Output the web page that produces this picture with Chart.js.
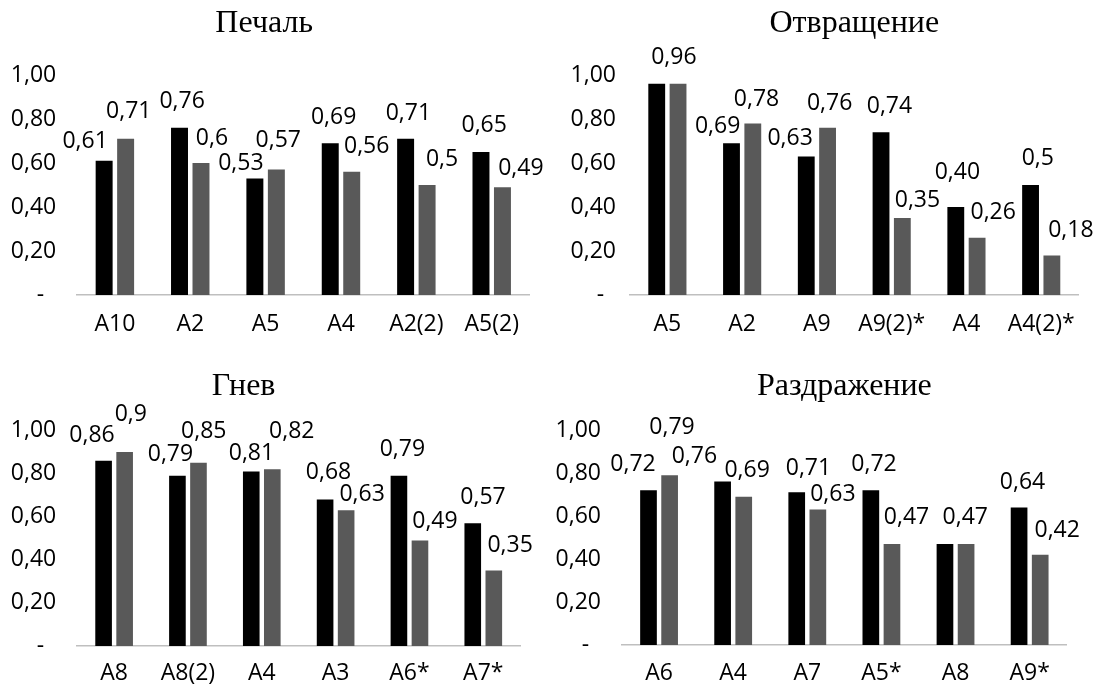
<!DOCTYPE html>
<html>
<head>
<meta charset="utf-8">
<script src="https://cdn.jsdelivr.net/npm/chart.js@4.4.1/dist/chart.umd.min.js"></script>
<style>
  html, body { margin: 0; padding: 0; background: #fff; overflow: hidden; }
  #board { position: relative; width: 1099px; height: 685px; overflow: hidden; background: #fff; }
  #board canvas { position: absolute; }
</style>
</head>
<body>
<div id="board">
  <canvas id="sadness"></canvas>
  <canvas id="disgust"></canvas>
  <canvas id="anger"></canvas>
  <canvas id="irritation"></canvas>
</div>
<script>
// ---- data (values written as they are printed, decimal comma) ----
const yTickLabels = ['-', '0,20', '0,40', '0,60', '0,80', '1,00'];

const sadnessCategories = ['A10', 'A2', 'A5', 'A4', 'A2(2)', 'A5(2)'];
const sadnessFirst      = ['0,61', '0,76', '0,53', '0,69', '0,71', '0,65'];
const sadnessSecond     = ['0,71', '0,6', '0,57', '0,56', '0,5', '0,49'];

const disgustCategories = ['A5', 'A2', 'A9', 'A9(2)*', 'A4', 'A4(2)*'];
const disgustFirst      = ['0,96', '0,69', '0,63', '0,74', '0,40', '0,5'];
const disgustSecond     = ['0,96', '0,78', '0,76', '0,35', '0,26', '0,18'];

const angerCategories = ['A8', 'A8(2)', 'A4', 'A3', 'A6*', 'A7*'];
const angerFirst      = ['0,86', '0,79', '0,81', '0,68', '0,79', '0,57'];
const angerSecond     = ['0,9', '0,85', '0,82', '0,63', '0,49', '0,35'];

const irritationCategories = ['A6', 'A4', 'A7', 'A5*', 'A8', 'A9*'];
const irritationFirst      = ['0,72', '0,76', '0,71', '0,72', '0,47', '0,64'];
const irritationSecond     = ['0,79', '0,69', '0,63', '0,47', '0,47', '0,42'];

const toNumber = s => parseFloat(s.replace(',', '.'));

// ---- shared look ----
const SANS = "'Open Sans', 'DejaVu Sans', sans-serif";
const SERIF = "'Liberation Serif', 'DejaVu Serif', serif";
const TEXT_SIZE = 23;
const FIRST_COLOR = '#000000';
const SECOND_COLOR = '#595959';

// value labels above the bars; each label is nudged from the bar top centre
const barValueLabels = {
  id: 'barValueLabels',
  afterDatasetsDraw(chart, args, opts) {
    const ctx = chart.ctx;
    ctx.save();
    ctx.font = `${TEXT_SIZE}px ${SANS}`;
    ctx.fillStyle = '#000';
    ctx.textAlign = 'center';
    ctx.textBaseline = 'alphabetic';
    chart.data.datasets.forEach((ds, i) => {
      const meta = chart.getDatasetMeta(i);
      meta.data.forEach((bar, j) => {
        const nudge = opts.nudges[i][j];
        if (!nudge) return;
        const x = bar.x + nudge[0];
        const y = bar.y + nudge[1] + 0.357 * TEXT_SIZE;
        ctx.fillText(ds.valueText[j], x, y);
      });
    });
    ctx.restore();
  }
};

const panels = [
  {
    id: 'sadness', title: 'Печаль',
    cats: sadnessCategories, first: sadnessFirst, second: sadnessSecond,
    box: { left: -1, top: 0, width: 560, height: 340 },
    yWidth: 78.2, yPad: 21, xHeight: 45, xPad: 16,
    padRight: 29.6, titleFull: true, titlePad: { top: 4.3, bottom: 32.3 },
    nudges: [
      [[-19, -21], [2.6, -28], [-14, -16.7], [3.4, -27], [2.8, -27], [3.2, -27.8]],
      [[3.2, -28.7], [11, -26], [1.9, -31], [15, -27.3], [15, -27.5], [18.4, -20.5]]
    ]
  },
  {
    id: 'disgust', title: 'Отвращение',
    cats: disgustCategories, first: disgustFirst, second: disgustSecond,
    box: { left: 550, top: 0, width: 549, height: 340 },
    yWidth: 80, yPad: 14, xHeight: 45, xPad: 16,
    padRight: 20.4, titleFull: false, titlePad: { top: 4.3, bottom: 32.3 },
    nudges: [
      [null, [-13.9, -18.7], [-16.1, -19.3], [8.4, -27.2], [1.6, -36.2], [7.2, -27.8]],
      [[-4.2, -28], [3.7, -26], [2.1, -26.2], [15.1, -19.5], [16.1, -27], [19, -27]]
    ]
  },
  {
    id: 'anger', title: 'Гнев',
    cats: angerCategories, first: angerFirst, second: angerSecond,
    box: { left: -33, top: 340, width: 580, height: 346 },
    yWidth: 110.2, yPad: 21, xHeight: 40, xPad: 13.8,
    padRight: 26.8, titleFull: true, titlePad: { top: 27.3, bottom: 24.8 },
    nudges: [
      [[-11.6, -26.7], [-7, -23], [0.2, -20], [3.4, -28.5], [3.4, -27.5], [10.3, -27.2]],
      [[6.2, -39.7], [5.3, -33], [19.5, -39.3], [16, -17.8], [15, -20.5], [16.3, -26.8]]
    ]
  },
  {
    id: 'irritation', title: 'Раздражение',
    cats: irritationCategories, first: irritationFirst, second: irritationSecond,
    box: { left: 550, top: 340, width: 549, height: 346 },
    yWidth: 72, yPad: 21, xHeight: 41, xPad: 14.8,
    padRight: 32.3, titleFull: false, titlePad: { top: 27.3, bottom: 24.3 },
    nudges: [
      [[-15.5, -27.8], [-28.2, -27.3], [11.7, -25.8], [3.2, -27.8], null, [3.4, -27]],
      [[2.4, -49.7], [3.4, -27.7], [15, -16.8], [14.6, -27.7], [-0.8, -27.7], [17, -25.7]]
    ]
  }
];

panels.forEach(p => {
  const canvas = document.getElementById(p.id);
  canvas.width = p.box.width;
  canvas.height = p.box.height;
  canvas.style.left = p.box.left + 'px';
  canvas.style.top = p.box.top + 'px';
  canvas.style.width = p.box.width + 'px';
  canvas.style.height = p.box.height + 'px';

  new Chart(canvas, {
    type: 'bar',
    data: {
      labels: p.cats,
      datasets: [
        { data: p.first.map(toNumber), valueText: p.first, backgroundColor: FIRST_COLOR, borderWidth: 0 },
        { data: p.second.map(toNumber), valueText: p.second, backgroundColor: SECOND_COLOR, borderWidth: 0 }
      ]
    },
    plugins: [barValueLabels],
    options: {
      responsive: false,
      devicePixelRatio: 1,
      animation: false,
      events: [],
      layout: { padding: { left: 0, right: p.padRight, top: 0, bottom: 0 } },
      datasets: { bar: { barPercentage: 0.79, categoryPercentage: 0.57 } },
      scales: {
        x: {
          grid: { display: false, drawTicks: false },
          border: { display: true, color: '#bfbfbf', width: 1.5 },
          ticks: {
            font: { family: SANS, size: TEXT_SIZE },
            color: '#000',
            padding: p.xPad,
            autoSkip: false,
            maxRotation: 0,
            minRotation: 0
          },
          afterFit: s => { s.height = p.xHeight; }
        },
        y: {
          min: 0, max: 1,
          grid: { display: false, drawTicks: false },
          border: { display: false },
          ticks: {
            stepSize: 0.2,
            font: { family: SANS, size: TEXT_SIZE },
            color: '#000',
            padding: p.yPad,
            callback: (v, i) => (i === 0 ? yTickLabels[i] + '  ' : yTickLabels[i])
          },
          afterFit: s => { s.width = p.yWidth; }
        }
      },
      plugins: {
        legend: { display: false },
        tooltip: { enabled: false },
        title: {
          display: true,
          text: p.title,
          fullSize: p.titleFull,
          color: '#000',
          font: { family: SERIF, size: 32, weight: 'normal', lineHeight: 1.2 },
          padding: p.titlePad
        },
        barValueLabels: { nudges: p.nudges }
      }
    }
  });
});
</script>
</body>
</html>
